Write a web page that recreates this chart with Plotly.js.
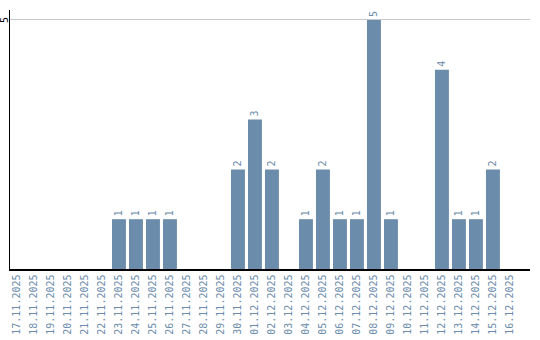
<!DOCTYPE html>
<html><head><meta charset="utf-8">
<script src="https://cdn.plot.ly/plotly-3.0.1.min.js"></script>
<style>html,body{margin:0;padding:0;background:#fff}#c{width:540px;height:340px}</style>
</head><body><div id="c"></div>
<script>
const dates = ["17.11.2025","18.11.2025","19.11.2025","20.11.2025","21.11.2025","22.11.2025","23.11.2025","24.11.2025","25.11.2025","26.11.2025","27.11.2025","28.11.2025","29.11.2025","30.11.2025","01.12.2025","02.12.2025","03.12.2025","04.12.2025","05.12.2025","06.12.2025","07.12.2025","08.12.2025","09.12.2025","10.12.2025","11.12.2025","12.12.2025","13.12.2025","14.12.2025","15.12.2025","16.12.2025"];
const counts = [0,0,0,0,0,0,1,1,1,1,0,0,0,2,3,2,0,1,2,1,1,5,1,0,0,4,1,1,2,0];
const yTicks = [5];

const barColor = '#6b8cab';
const labelFont = {family:'DejaVu Sans Mono, monospace', size:10, color:barColor};

Plotly.newPlot('c', [{
  type:'bar', x:dates, y:counts,
  marker:{color:barColor},
  text:counts.map(v => v ? String(v) : ''),
  textposition:'outside', textangle:-90,
  textfont:labelFont, cliponaxis:false,
  hoverinfo:'none'
}], {
  width:540, height:340,
  margin:{l:10, r:10, t:10, b:71},
  paper_bgcolor:'#fff', plot_bgcolor:'#fff',
  bargap:0.18, showlegend:false,
  xaxis:{type:'category', range:[-0.41, 30.18], tickangle:-90,
    tickfont:labelFont, showline:true, linecolor:'#000', linewidth:1.5,
    showgrid:false, ticks:'', zeroline:false, fixedrange:true},
  yaxis:{range:[0,5.2], tickvals:yTicks, showticklabels:false,
    showline:true, linecolor:'#000', linewidth:1.5, showgrid:true, gridcolor:'#c8c8c8',
    ticks:'', ticklen:0, zeroline:false, fixedrange:true},
  annotations: yTicks.map(v => ({
    xref:'paper', yref:'y', x:0, y:v, xanchor:'center', yanchor:'middle',
    xshift:-5, text:String(v), textangle:-90, showarrow:false,
    font:{family:'DejaVu Sans Mono, monospace', size:10, color:'#000'}
  }))
}, {displayModeBar:false, staticPlot:true});
</script></body></html>
